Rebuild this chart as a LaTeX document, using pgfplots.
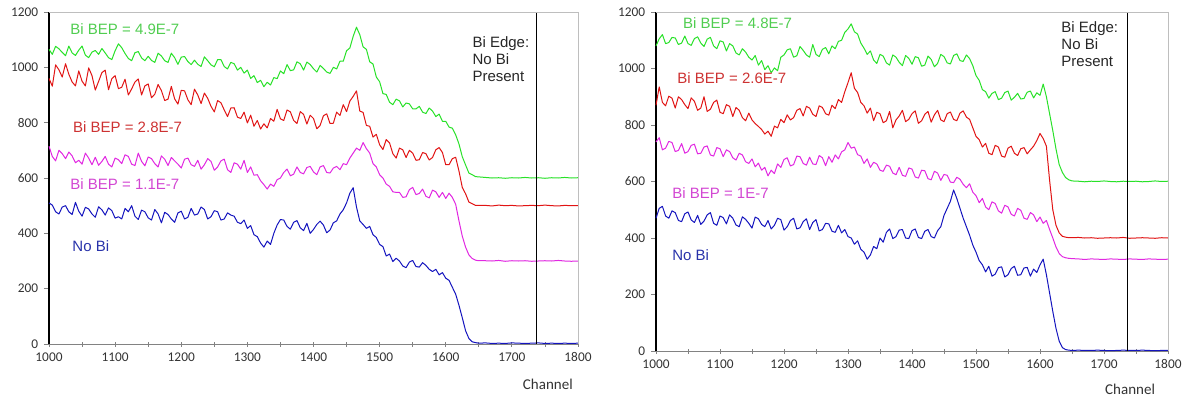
\documentclass[border=0pt]{standalone}
\usepackage{fontspec}
\setmainfont{Liberation Sans}
\newfontfamily\carlito{Carlito}
\usepackage{pgfplots}
\usepackage{pgfplotstable}
\pgfplotsset{compat=1.18}
\definecolor{cgreen}{RGB}{40,225,40}
\definecolor{cred}{RGB}{225,20,20}
\definecolor{cmag}{RGB}{225,40,225}
\definecolor{cblue}{RGB}{20,20,190}
\definecolor{lgreen}{RGB}{80,205,80}
\definecolor{lred}{RGB}{205,50,50}
\definecolor{lmag}{RGB}{210,70,210}
\definecolor{lblue}{RGB}{40,50,170}
\definecolor{axgray}{RGB}{130,130,130}
\definecolor{bordgray}{RGB}{190,190,190}

\pgfplotstableread{
x g r m b
1000 1065 960 715 510
1005 1047 932 678 502
1010 1076 1009 662 478
1015 1067 991 700 470
1020 1054 965 688 495
1025 1042 1013 670 500
1030 1077 975 694 478
1035 1052 947 680 468
1040 1043 933 655 512
1045 1062 987 664 480
1050 1077 950 650 462
1055 1044 933 690 494
1060 1035 998 672 488
1065 1055 970 648 470
1070 1061 918 675 458
1075 1047 949 646 496
1080 1068 981 660 485
1085 1052 990 678 466
1090 1035 919 650 492
1095 1028 959 640 482
1100 1060 970 672 455
1105 1085 923 666 460
1110 1071 928 652 452
1115 1050 957 684 490
1120 1032 900 678 478
1125 1024 922 650 500
1130 1053 947 645 462
1135 1057 958 690 450
1140 1034 900 660 484
1145 1024 933 644 478
1150 1040 940 676 456
1155 1025 890 670 448
1160 1018 903 652 486
1165 1051 938 640 470
1170 1041 916 680 438
1175 1024 880 668 476
1180 1018 885 645 468
1185 1051 931 674 452
1190 1035 886 662 440
1195 1011 867 650 474
1200 1037 917 636 480
1205 1039 915 668 452
1210 1021 883 672 458
1215 1010 865 648 490
1220 1026 921 642 466
1225 1011 900 664 470
1230 1003 869 632 495
1235 1038 907 648 486
1240 1024 888 670 452
1245 1009 859 660 460
1250 1002 839 628 482
1255 1028 880 640 478
1260 1028 872 662 448
1265 1003 846 668 452
1270 994 822 630 474
1275 1018 853 620 466
1280 1013 854 655 462
1285 990 820 650 440
1290 1000 815 632 435
1295 979 838 664 448
1300 990 799 620 418
1305 960 827 640 428
1310 970 787 610 395
1315 945 808 612 388
1320 953 777 590 365
1325 930 796 576 350
1330 946 781 560 372
1335 936 815 578 360
1340 963 805 570 400
1345 959 848 594 430
1350 987 814 600 450
1355 977 808 620 448
1360 1010 846 632 425
1365 988 839 608 415
1370 991 808 614 440
1375 1020 797 640 446
1380 1013 840 620 420
1385 990 830 615 410
1390 1019 795 638 436
1395 1010 827 642 400
1400 995 815 622 414
1405 983 778 612 432
1410 1007 790 640 444
1415 996 825 645 430
1420 983 832 620 402
1425 978 797 618 412
1430 1000 798 636 438
1435 994 838 642 445
1440 1022 826 630 470
1445 1022 865 652 485
1450 1060 840 648 510
1455 1070 878 672 545
1460 1112 895 690 565
1465 1145 915 708 495
1470 1118 842 700 445
1475 1074 837 728 432
1480 1065 790 706 418
1485 1020 787 690 425
1490 1012 748 652 395
1495 965 758 640 385
1500 948 720 612 360
1505 905 703 600 352
1510 902 739 578 318
1515 874 727 570 325
1520 865 688 550 298
1525 885 672 548 310
1530 879 708 548 300
1535 857 702 530 282
1540 871 674 532 276
1545 868 700 558 296
1550 850 690 566 302
1555 850 664 540 280
1560 859 666 544 278
1565 838 692 560 294
1570 833 688 534 284
1575 853 665 528 270
1580 842 674 556 262
1585 822 702 550 270
1590 831 710 530 250
1595 805 692 548 258
1600 805 648 526 238
1605 784 648 545 230
1610 780 670 530 205
1615 756 675 505 180
1620 723 625 445 140
1625 677 566 390 95
1630 647 543 350 48
1635 618 513 322 20
1640 612 507 309 8
1645 605 501 303 5
1650 604 501 301 3
1660 602 501 301 4
1670 600 499 300 2
1680 601 502 302 3
1690 599 500 299 2
1700 601 501 301 4
1710 600 499 300 3
1720 602 500 301 2
1730 600 501 299 3
1740 601 500 300 4
1750 599 502 301 2
1760 601 500 300 3
1770 600 499 302 2
1780 602 501 300 3
1790 600 500 299 2
1800 601 500 300 3
}\lefttab

\pgfplotstableread{
x g r m b
1000 1080 870 740 470
1005 1105 935 755 505
1010 1120 880 712 512
1015 1088 868 718 478
1020 1092 902 742 470
1025 1110 895 738 496
1030 1108 860 706 490
1035 1085 900 710 462
1040 1090 890 734 458
1045 1115 872 700 486
1050 1088 858 706 492
1055 1082 896 728 464
1060 1106 884 732 455
1065 1112 852 698 480
1070 1090 860 700 448
1075 1078 900 722 460
1080 1104 848 726 482
1085 1110 856 694 490
1090 1080 880 690 452
1095 1070 888 720 445
1100 1098 845 716 478
1105 1094 840 688 472
1110 1062 872 712 450
1115 1088 866 706 482
1120 1080 830 684 470
1125 1055 862 676 446
1130 1048 852 700 440
1135 1070 826 694 475
1140 1058 815 670 466
1145 1040 842 664 452
1150 1030 818 680 435
1155 1046 805 652 474
1160 1012 795 665 468
1165 1028 784 640 448
1170 996 768 650 440
1175 1010 778 620 462
1180 985 760 640 432
1185 1002 796 628 445
1190 992 790 662 470
1195 1040 820 650 465
1200 1048 808 678 428
1205 1066 836 684 440
1210 1070 818 655 462
1215 1040 826 660 470
1220 1045 852 690 432
1225 1078 858 688 436
1230 1064 832 664 458
1235 1048 866 658 468
1240 1040 860 686 430
1245 1085 838 662 455
1250 1050 830 660 465
1255 1042 868 692 425
1260 1068 862 684 430
1265 1074 840 656 452
1270 1052 835 688 450
1275 1080 870 668 424
1280 1070 858 694 420
1285 1096 890 680 445
1290 1100 880 705 418
1295 1128 918 712 430
1300 1140 950 738 405
1305 1158 985 718 400
1310 1130 930 722 378
1315 1122 915 695 390
1320 1090 880 690 360
1325 1072 868 664 350
1330 1050 842 680 325
1335 1062 860 650 340
1340 1030 815 668 370
1345 1018 845 662 362
1350 1050 840 640 400
1355 1044 808 636 385
1360 1020 815 658 420
1365 1012 848 654 432
1370 1048 790 630 398
1375 1040 818 624 405
1380 1022 832 650 428
1385 1010 852 622 430
1390 1046 812 618 400
1395 1036 820 648 398
1400 1015 840 644 426
1405 1042 850 616 432
1410 1038 806 612 402
1415 1008 815 640 398
1420 1012 838 638 424
1425 1044 848 610 430
1430 1032 810 606 405
1435 1006 836 636 400
1440 1018 852 630 426
1445 1050 818 604 440
1450 1042 812 625 480
1455 1020 840 622 505
1460 1016 846 598 530
1465 1046 820 596 570
1470 1052 815 615 540
1475 1028 842 608 505
1480 1025 850 590 470
1485 1048 828 578 440
1490 1035 820 592 410
1495 1010 790 562 375
1500 975 760 550 350
1505 958 748 525 320
1510 925 722 540 305
1515 918 735 510 280
1520 895 700 500 300
1525 912 695 528 265
1530 918 728 522 272
1535 890 722 496 295
1540 895 690 488 298
1545 915 686 516 262
1550 920 718 510 270
1555 888 725 484 292
1560 898 700 478 300
1565 912 692 505 268
1570 892 716 498 270
1575 894 720 470 294
1580 916 698 466 296
1585 920 712 490 265
1590 896 725 482 290
1595 914 745 458 278
1600 905 770 474 305
1605 945 752 452 325
1610 900 725 462 270
1615 840 604 430 205
1620 780 500 400 140
1625 715 445 368 80
1630 660 418 345 35
1635 632 406 334 12
1640 614 403 330 5
1645 606 401 328 3
1650 602 401 327 2
1660 601 402 326 3
1670 599 400 324 2
1680 601 401 326 2
1690 600 399 325 3
1700 602 400 324 2
1710 600 401 326 1
1720 599 400 325 2
1730 601 402 324 3
1740 600 399 326 2
1750 601 400 325 2
1760 599 401 324 3
1770 600 400 326 2
1780 602 399 325 1
1790 600 401 324 2
1800 601 400 325 2
}\righttab

\tikzset{ann/.style={anchor=west, inner sep=0pt, font=\fontsize{9}{10.2}\selectfont}}

\pgfplotsset{
  rbs/.style={
    scale only axis,
    xmin=1000, xmax=1800, ymin=0, ymax=1200,
    xtick={1000,1100,...,1800},
    minor xtick={1050,1150,...,1750},
    ytick={0,200,...,1200},
    axis x line*=bottom, axis y line*=left,
    x axis line style={-, draw=axgray, line width=0.6pt},
    y axis line style={-, draw=black, line width=0.7pt},
    xtick style={draw=axgray, line width=0.5pt},
    ytick style={draw=axgray, line width=0.5pt},
    major tick length=3pt, minor tick length=3pt,
    xtick align=center, ytick align=outside,
    tick label style={font=\carlito\fontsize{8}{9}\selectfont, text=black!80},
    /pgf/number format/.cd, 1000 sep={}, assume math mode=true,
    /pgfplots/.cd,
    xlabel={Channel},
    xlabel style={font=\carlito\fontsize{9}{10}\selectfont, text=black!80, anchor=center},
    every axis plot/.append style={line width=0.6pt, line join=round},
    clip=false,
  },
}

\begin{document}
\begin{tikzpicture}
\useasboundingbox (0,0) rectangle (711pt,238.8pt);
% left panel
\begin{axis}[rbs, at={(29.4pt,32.4pt)}, anchor=south west,
  width=317.4pt, height=199.2pt,
  xlabel style={at={(axis description cs:0.943,-0.123)}}]
\addplot[cgreen] table[x=x,y=g] {\lefttab};
\addplot[cred] table[x=x,y=r] {\lefttab};
\addplot[cmag] table[x=x,y=m] {\lefttab};
\addplot[cblue] table[x=x,y=b] {\lefttab};
\addplot[black, line width=0.6pt] coordinates {(1737,0) (1737,1200)};
\draw[bordgray, line width=0.6pt] (rel axis cs:0,1) -- (rel axis cs:1,1) -- (rel axis cs:1,0);
\node[ann, text=lgreen] at (axis cs:1032,1137) {Bi BEP = 4.9E-7};
\node[ann, text=lred] at (axis cs:1036,785) {Bi BEP = 2.8E-7};
\node[ann, text=lmag] at (axis cs:1032,578) {Bi BEP = 1.1E-7};
\node[ann, text=lblue] at (axis cs:1035,354) {No Bi};
\node[ann, anchor=north west, align=left, text=black!85] at (axis cs:1640,1112) {Bi Edge:\\No Bi\\Present};
\end{axis}
% right panel
\begin{axis}[rbs, at={(393.6pt,28.2pt)}, anchor=south west,
  width=307.2pt, height=203.4pt,
  xlabel style={at={(axis description cs:0.926,-0.112)}}]
\addplot[cgreen] table[x=x,y=g] {\righttab};
\addplot[cred] table[x=x,y=r] {\righttab};
\addplot[cmag] table[x=x,y=m] {\righttab};
\addplot[cblue] table[x=x,y=b] {\righttab};
\addplot[black, line width=0.6pt] coordinates {(1737,0) (1737,1200)};
\draw[bordgray, line width=0.6pt] (rel axis cs:0,1) -- (rel axis cs:1,1) -- (rel axis cs:1,0);
\node[ann, text=lgreen] at (axis cs:1042,1162) {Bi BEP = 4.8E-7};
\node[ann, text=lred] at (axis cs:1033,965) {Bi BEP = 2.6E-7};
\node[ann, text=lmag] at (axis cs:1025,559) {Bi BEP = 1E-7};
\node[ann, text=lblue] at (axis cs:1025,340) {No Bi};
\node[ann, anchor=north west, align=left, text=black!85] at (axis cs:1633,1168) {Bi Edge:\\No Bi\\Present};
\end{axis}
\end{tikzpicture}
\end{document}
